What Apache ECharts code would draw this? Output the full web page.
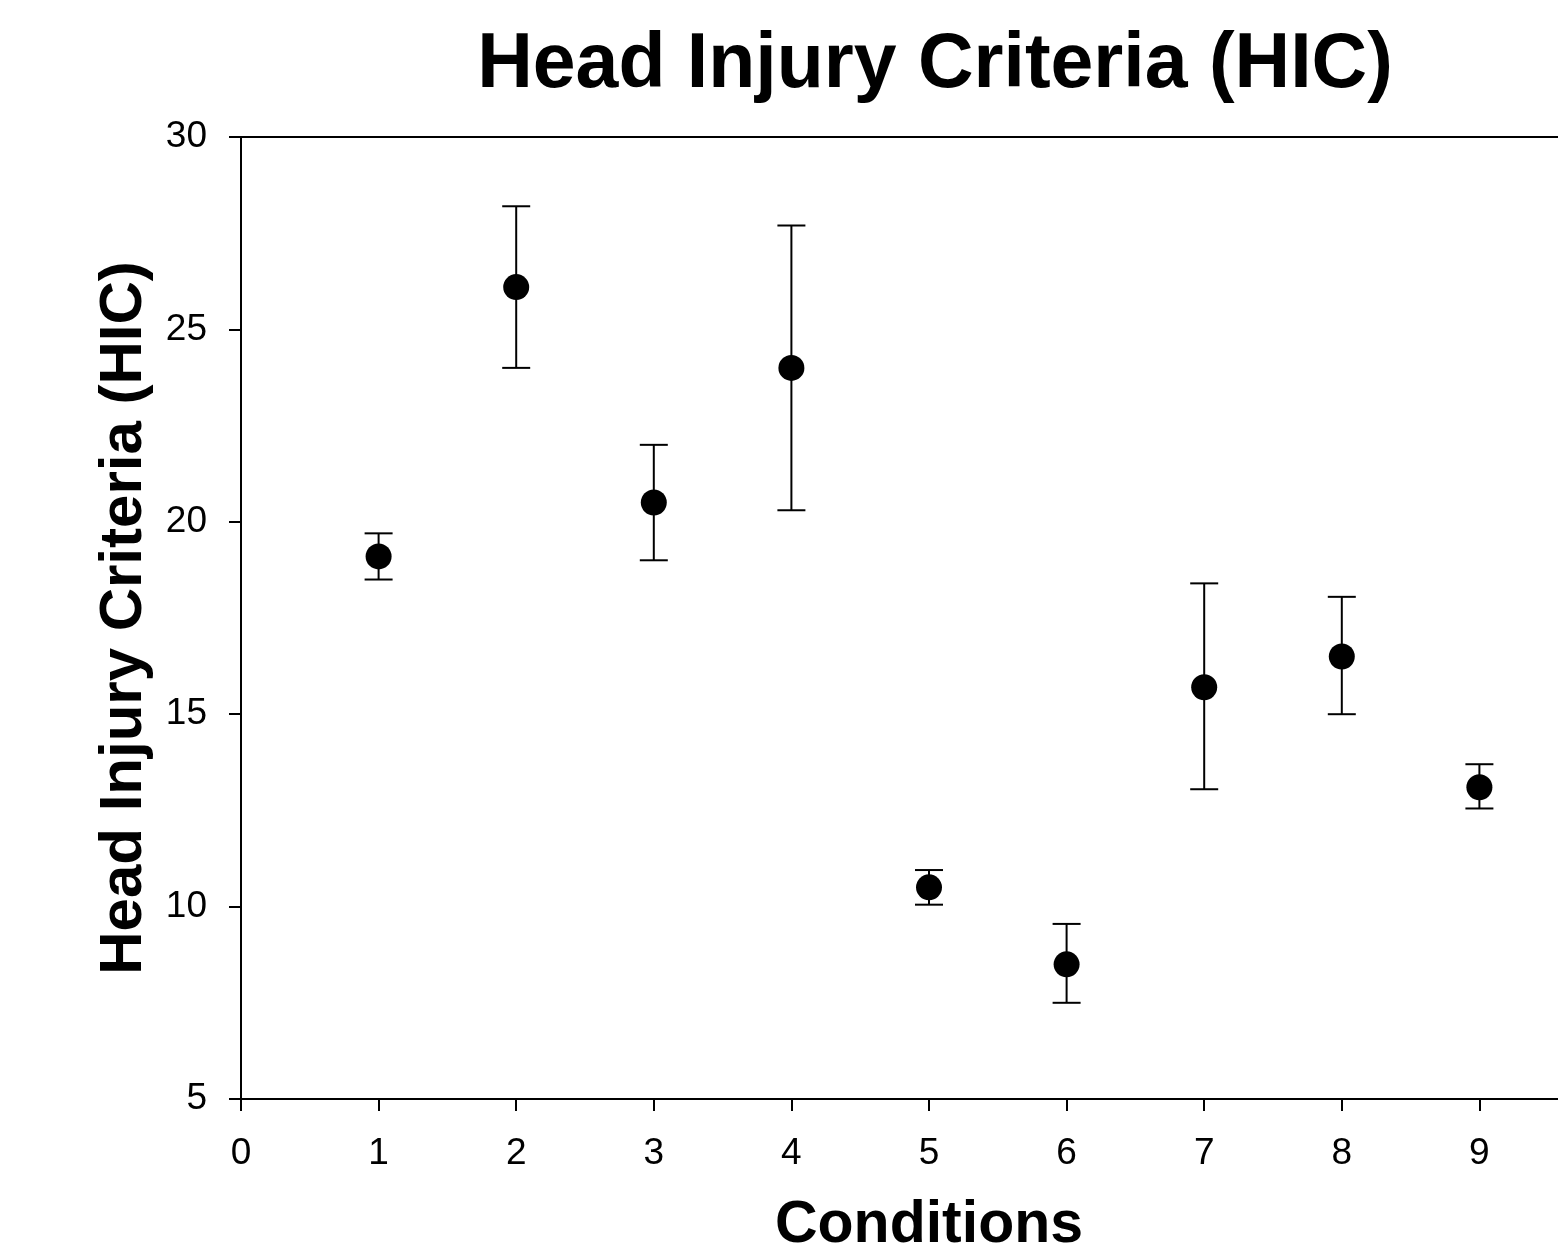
<!DOCTYPE html>
<html>
<head>
<meta charset="utf-8">
<script src="https://cdn.jsdelivr.net/npm/echarts@6/dist/echarts.min.js"></script>
<style>
html, body { margin: 0; padding: 0; background: #fff; }
#main { width: 1558px; height: 1245px; }
</style>
</head>
<body>
<div id="main"></div>
<script>
// condition number, mean HIC and error bar limits
var conditions = [1, 2, 3, 4, 5, 6, 7, 8, 9];
var means = [19.1, 26.1, 20.5, 24.0, 10.5, 8.5, 15.7, 16.5, 13.1];
var lows = [18.5, 24.0, 19.0, 20.3, 10.05, 7.5, 13.05, 15.0, 12.55];
var highs = [19.7, 28.2, 22.0, 27.7, 10.95, 9.55, 18.4, 18.05, 13.7];

var font = 'Liberation Sans, Arial, sans-serif';

var points = [];
var bars = [];
for (var i = 0; i < conditions.length; i++) {
    points.push([conditions[i], means[i]]);
    bars.push([conditions[i], lows[i], highs[i]]);
}

function renderBar(params, api) {
    var x = api.value(0);
    var lo = api.coord([x, api.value(1)]);
    var hi = api.coord([x, api.value(2)]);
    var half = 14;
    var st = { stroke: '#000', lineWidth: 2 };
    return {
        type: 'group',
        children: [
            { type: 'line', shape: { x1: lo[0], y1: lo[1], x2: hi[0], y2: hi[1] }, style: st },
            { type: 'line', shape: { x1: hi[0] - half, y1: hi[1], x2: hi[0] + half, y2: hi[1] }, style: st },
            { type: 'line', shape: { x1: lo[0] - half, y1: lo[1], x2: lo[0] + half, y2: lo[1] }, style: st }
        ]
    };
}

var myChart = echarts.init(document.getElementById('main'));
var option = {
    animation: false,
    backgroundColor: '#fff',
    title: {
        text: 'Head Injury Criteria (HIC)',
        left: 930,
        textAlign: 'center',
        top: 22,
        textStyle: { fontFamily: font, fontSize: 77, fontWeight: 'bold', color: '#000' }
    },
    // plot runs past the right edge, the 10 tick is cut off
    grid: { left: 241, top: 137, width: 1376, bottom: 146, outerBoundsMode: 'none', containLabel: false },
    xAxis: [{
        type: 'value',
        min: 0,
        max: 10,
        interval: 1,
        name: 'Conditions',
        nameLocation: 'middle',
        nameGap: 97,
        nameTextStyle: { fontFamily: font, fontSize: 59, fontWeight: 'bold', color: '#000' },
        axisLine: { onZero: false, lineStyle: { color: '#000', width: 2 } },
        axisTick: { show: true, inside: false, length: 12, lineStyle: { color: '#000', width: 2 } },
        axisLabel: { margin: 36, fontFamily: font, fontSize: 37, color: '#000' },
        splitLine: { show: false }
    }, {
        type: 'value',
        position: 'top',
        min: 0,
        max: 10,
        axisLine: { show: true, onZero: false, lineStyle: { color: '#000', width: 2 } },
        axisTick: { show: false },
        axisLabel: { show: false },
        splitLine: { show: false }
    }],
    yAxis: {
        type: 'value',
        min: 5,
        max: 30,
        interval: 5,
        name: 'Head Injury Criteria (HIC)',
        nameLocation: 'middle',
        nameGap: 80,
        nameTextStyle: { fontFamily: font, fontSize: 60, fontWeight: 'bold', color: '#000' },
        axisLine: { show: true, onZero: false, lineStyle: { color: '#000', width: 2 } },
        axisTick: { show: true, inside: false, length: 12, lineStyle: { color: '#000', width: 2 } },
        axisLabel: { margin: 34, fontFamily: font, fontSize: 37, color: '#000' },
        splitLine: { show: false }
    },
    series: [{
        type: 'custom',
        renderItem: renderBar,
        data: bars,
        encode: { x: 0, y: [1, 2] },
        z: 1
    }, {
        type: 'scatter',
        data: points,
        symbol: 'circle',
        symbolSize: 26,
        itemStyle: { color: '#000', opacity: 1 },
        z: 2
    }]
};
myChart.setOption(option);
</script>
</body>
</html>
